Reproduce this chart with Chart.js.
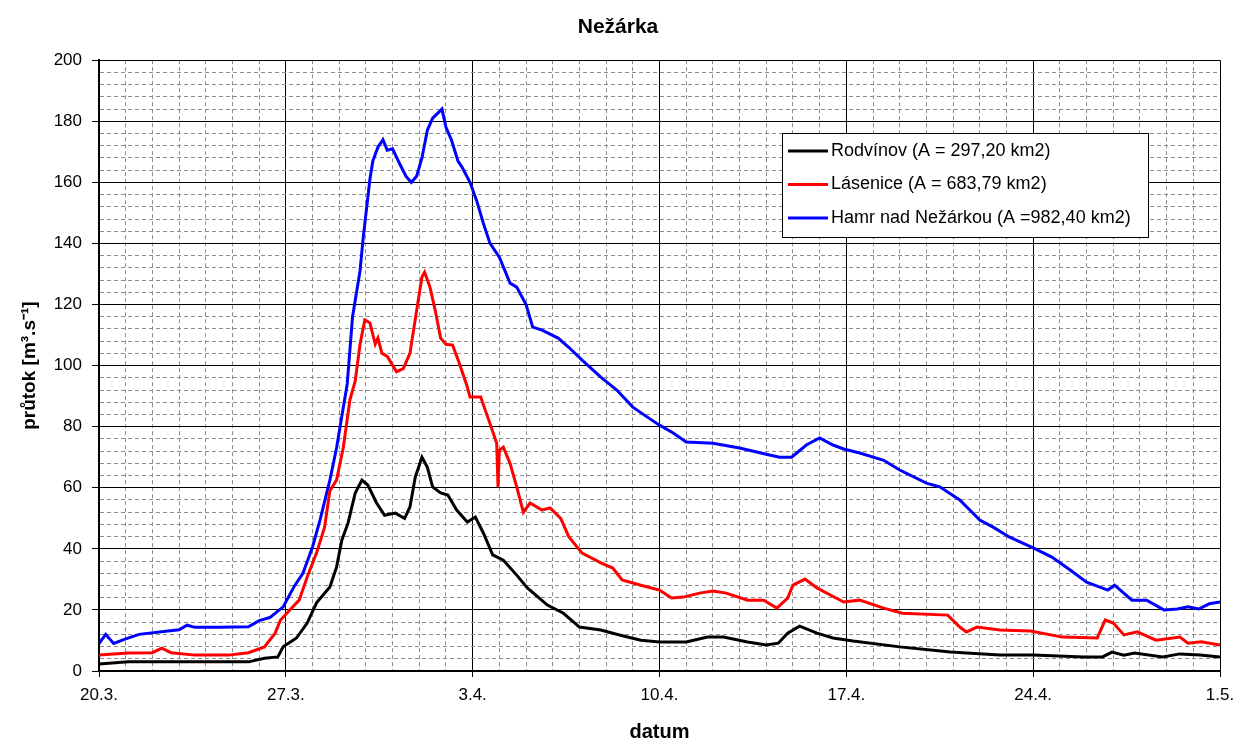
<!DOCTYPE html>
<html>
<head>
<meta charset="utf-8">
<title>Nežárka</title>
<script src="https://cdn.jsdelivr.net/npm/chart.js@4"></script>
<style>
  body { margin: 0; background: #fff; }
  #wrap { width: 1236px; height: 744px; }
</style>
</head>
<body>
<div id="wrap"><canvas id="myChart"></canvas></div>
<script>
// x = days since 20.3. (0 .. 42 = 1.5.)
const xTickLabels = ['20.3.', '27.3.', '3.4.', '10.4.', '17.4.', '24.4.', '1.5.'];
const seriesNames = ['Rodvínov (A = 297,20 km2)', 'Lásenice (A = 683,79 km2)', 'Hamr nad Nežárkou (A =982,40 km2)'];

const rodvinovDays = [0, 1.1, 3.6, 5.6, 6.2, 6.7, 6.9, 7.4, 7.8, 8.15, 8.65, 8.9, 9.1, 9.33, 9.6, 9.85, 10.07, 10.4, 10.7, 11.1, 11.45, 11.65, 11.85, 12.1, 12.3, 12.5, 12.8, 13.07, 13.4, 13.8, 14.1, 14.4, 14.75, 15.15, 15.65, 16.05, 16.8, 17.4, 18.0, 18.8, 19.5, 20.3, 21.0, 22.0, 22.8, 23.4, 24.3, 25.0, 25.45, 25.8, 26.25, 26.9, 27.5, 28.25, 30.0, 31.9, 33.75, 35.0, 36.9, 37.6, 37.95, 38.4, 38.8, 39.85, 40.5, 41.25, 42];
const rodvinovFlow = [2.3, 3, 3, 3, 4.2, 4.6, 7.9, 10.8, 15.7, 22.3, 27.5, 34, 42.9, 48.4, 58.3, 62.5, 60.9, 55, 51, 51.7, 50, 53.7, 63.5, 70, 66.8, 60.3, 58.3, 57.6, 52.7, 48.8, 50.4, 45.2, 38, 36.3, 31.4, 27.2, 21.6, 18.9, 14.4, 13.4, 11.8, 10.1, 9.5, 9.5, 11.1, 11.1, 9.5, 8.5, 9.1, 12.4, 14.7, 12.4, 10.8, 9.8, 7.9, 6.2, 5.2, 5.2, 4.6, 4.6, 6.2, 5.2, 5.9, 4.6, 5.6, 5.2, 4.6];

const lasenDays = [0, 1.1, 2.0, 2.35, 2.7, 3.6, 4.85, 5.6, 6.2, 6.6, 6.8, 7.15, 7.5, 7.8, 8.15, 8.45, 8.65, 8.9, 9.15, 9.4, 9.6, 9.78, 9.96, 10.15, 10.35, 10.45, 10.6, 10.8, 11.15, 11.4, 11.65, 11.9, 12.1, 12.2, 12.4, 12.6, 12.8, 13.0, 13.25, 13.5, 13.8, 13.9, 14.3, 14.65, 14.9, 14.95, 15.0, 15.15, 15.4, 15.65, 15.9, 16.15, 16.6, 16.9, 17.3, 17.6, 18.1, 18.8, 19.25, 19.6, 20.3, 21.0, 21.45, 21.9, 22.5, 23.0, 23.5, 24.3, 24.9, 25.4, 25.8, 26.0, 26.45, 26.9, 27.4, 27.9, 28.5, 29.4, 30.1, 31.8, 32.25, 32.5, 32.9, 33.75, 34.9, 36.1, 37.4, 37.7, 38.0, 38.4, 38.9, 39.6, 40.5, 40.8, 41.3, 42];
const lasenFlow = [5.2, 5.9, 6, 7.5, 6, 5.2, 5.2, 6, 7.9, 12.4, 16.7, 20, 23.2, 30.8, 38.6, 47, 59, 62.5, 73, 88.7, 95, 107, 115, 114, 107, 109, 104, 103, 98, 99, 104, 118, 129, 130.6, 125.7, 118, 109, 107, 106.7, 100.8, 93, 89.7, 89.7, 81, 74.6, 60.3, 72.3, 73.3, 68, 60.3, 52, 55, 52.7, 53.4, 50, 44, 38.6, 35.4, 33.7, 29.8, 28.1, 26.5, 23.9, 24.2, 25.5, 26.2, 25.5, 23.2, 23.2, 20.6, 23.9, 28.1, 30.1, 27.2, 24.9, 22.6, 23.2, 20.6, 18.9, 18.3, 14.4, 12.8, 14.4, 13.4, 13.1, 11.1, 10.8, 16.7, 15.7, 11.8, 12.8, 10.1, 11.1, 9.1, 9.6, 8.5];

const hamrDays = [0, 0.25, 0.55, 1.0, 1.5, 2.5, 3.0, 3.3, 3.6, 4.5, 5.6, 6.0, 6.4, 6.9, 7.3, 7.64, 8.0, 8.28, 8.65, 8.9, 9.3, 9.5, 9.78, 9.9, 10.15, 10.26, 10.45, 10.64, 10.8, 11.0, 11.27, 11.5, 11.7, 11.9, 12.1, 12.3, 12.5, 12.85, 13.0, 13.2, 13.45, 13.6, 13.9, 14.15, 14.4, 14.65, 15.0, 15.4, 15.65, 16.0, 16.25, 16.6, 17.2, 17.6, 18.1, 18.8, 19.4, 20.0, 20.6, 21.0, 21.5, 22.0, 23.0, 24.0, 25.0, 25.5, 25.95, 26.5, 27.0, 27.5, 27.9, 28.5, 29.4, 30.0, 31.0, 31.5, 32.25, 33.0, 33.5, 34.1, 35.0, 35.7, 36.4, 37.0, 37.8, 38.05, 38.7, 39.25, 39.9, 40.4, 40.8, 41.2, 41.6, 42];
const hamrFlow = [9, 12, 9, 10.5, 12, 13, 13.5, 15, 14.3, 14.3, 14.5, 16.5, 17.5, 21, 27.5, 32, 40.6, 49.4, 62.5, 73, 94, 116, 131, 142, 161, 167, 171.5, 174, 170.5, 171, 166, 162, 160, 162, 168, 177, 181, 184, 178, 174, 167, 165, 160, 154, 146.6, 140, 135.5, 127, 125.7, 120, 112.6, 111.6, 109, 106, 101.8, 96.2, 92, 86.4, 82.8, 80.5, 78, 75, 74.6, 73, 71, 70, 70, 74, 76.3, 74, 72.7, 71.4, 69, 65.8, 61.5, 60.3, 56, 49.4, 47.1, 43.9, 40.3, 37.3, 33, 29.1, 26.5, 28.1, 23.2, 23.2, 20, 20.3, 21, 20.3, 22, 22.6];

function toPoints(days, flow) {
    return days.map((d, i) => ({ x: d, y: flow[i] }));
}

const FONT = '"Liberation Sans", Arial, sans-serif';

// minor grid dashed grey, major grid solid black
function gridColor(step) {
    return (ctx) => {
        if (!ctx.tick) return '#000';
        return Math.abs(ctx.tick.value % step) < 1e-6 ? '#000' : '#8c8c8c';
    };
}
function gridDash(step) {
    return (ctx) => {
        if (!ctx.tick) return [];
        return Math.abs(ctx.tick.value % step) < 1e-6 ? [] : [4, 3];
    };
}
function tickColor(step) {
    return (ctx) => {
        if (!ctx.tick) return '#000';
        return Math.abs(ctx.tick.value % step) < 1e-6 ? '#000' : 'rgba(0,0,0,0)';
    };
}

// legend box inside the plot, like the Excel one
const boxLegend = {
    id: 'boxLegend',
    afterDraw(chart) {
        const ctx = chart.ctx;
        const left = 782, top = 133, w = 366, h = 104;
        ctx.save();
        ctx.fillStyle = '#fff';
        ctx.fillRect(left, top, w, h);
        ctx.strokeStyle = '#000';
        ctx.lineWidth = 1;
        ctx.strokeRect(left + 0.5, top + 0.5, w, h);
        ctx.font = '18px ' + FONT;
        ctx.textBaseline = 'middle';
        chart.data.datasets.forEach((ds, i) => {
            const y = top + 18 + i * 33.5;
            ctx.strokeStyle = ds.borderColor;
            ctx.lineWidth = 3;
            ctx.beginPath();
            ctx.moveTo(left + 6, y);
            ctx.lineTo(left + 46, y);
            ctx.stroke();
            ctx.fillStyle = '#000';
            ctx.fillText(ds.label, left + 49, y);
        });
        ctx.restore();
    }
};

const ctx = document.getElementById('myChart').getContext('2d');
const myChart = new Chart(ctx, {
    type: 'line',
    data: {
        datasets: [
            { label: seriesNames[0], data: toPoints(rodvinovDays, rodvinovFlow), borderColor: '#000000' },
            { label: seriesNames[1], data: toPoints(lasenDays, lasenFlow), borderColor: '#ff0000' },
            { label: seriesNames[2], data: toPoints(hamrDays, hamrFlow), borderColor: '#0000ff' }
        ]
    },
    options: {
        responsive: true,
        maintainAspectRatio: false,
        animation: false,
        layout: { padding: { left: 0, right: 0, top: 0, bottom: 0 } },
        elements: {
            point: { radius: 0 },
            line: { borderWidth: 3, tension: 0 }
        },
        plugins: {
            legend: { display: false },
            tooltip: { enabled: false },
            title: {
                display: true,
                text: 'Nežárka',
                color: '#000',
                font: { family: FONT, size: 21, weight: 'bold' },
                padding: { top: 15, bottom: 20 }
            }
        },
        scales: {
            x: {
                type: 'linear',
                min: 0,
                max: 42,
                afterFit: (scale) => {
                    scale.height = 73;
                    scale.paddingRight = 16;
                },
                ticks: {
                    stepSize: 1,
                    autoSkip: false,
                    maxRotation: 0,
                    color: '#000',
                    padding: 8,
                    font: { family: FONT, size: 17 },
                    callback: (v) => (v % 7 === 0 ? xTickLabels[v / 7] : '')
                },
                grid: { color: gridColor(7), tickColor: tickColor(7), lineWidth: 1, tickLength: 6 },
                border: { color: '#000', width: 2, dash: gridDash(7) },
                title: {
                    display: true,
                    text: 'datum',
                    color: '#000',
                    font: { family: FONT, size: 20, weight: 'bold' },
                    padding: { top: 0, bottom: 0 }
                }
            },
            y: {
                min: 0,
                max: 200,
                afterFit: (scale) => { scale.width = 99; },
                ticks: {
                    stepSize: 4,
                    autoSkip: false,
                    color: '#000',
                    padding: 10,
                    font: { family: FONT, size: 17 },
                    callback: (v) => (v % 20 === 0 ? v : '')
                },
                grid: { color: gridColor(20), tickColor: tickColor(20), lineWidth: 1, tickLength: 7 },
                border: { color: '#000', width: 2, dash: gridDash(20) },
                title: {
                    display: true,
                    text: 'průtok [m³.s⁻¹]',
                    color: '#000',
                    font: { family: FONT, size: 19, weight: 'bold' },
                    padding: { top: 18, bottom: 0 }
                }
            }
        }
    },
    plugins: [boxLegend]
});
</script>
</body>
</html>
